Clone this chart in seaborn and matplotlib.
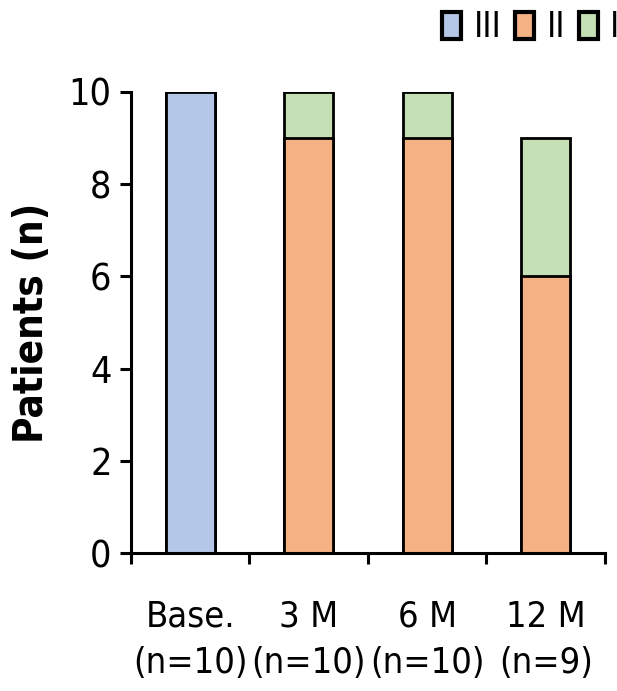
import numpy as np
import pandas as pd
import matplotlib
matplotlib.use("Agg")
import matplotlib.pyplot as plt
import seaborn as sns
from matplotlib.patches import Patch

# ── Data ──────────────────────────────────────────────────────────────────────
visits = ["Base.\n(n=10)", "3 M\n(n=10)", "6 M\n(n=10)", "12 M\n(n=9)"]
grade_iii = [10, 0, 0, 0]
grade_ii = [0, 9, 9, 6]
grade_i = [0, 1, 1, 3]
legend_labels = ["III", "II", "I"]

COLORS = {"III": "#B4C7E7", "II": "#F4B183", "I": "#C5E0B4"}

sns.set_style("white")
plt.rcParams["font.family"] = ["DejaVu Sans"]
plt.rcParams["font.stretch"] = "condensed"
plt.rcParams["text.color"] = "black"
plt.rcParams["axes.labelcolor"] = "black"
plt.rcParams["xtick.color"] = "black"
plt.rcParams["ytick.color"] = "black"

df = pd.DataFrame({"visit": visits, "III": grade_iii, "II": grade_ii, "I": grade_i})
# cumulative tops, drawn back to front so each layer covers the one behind
df["top_i"] = df["III"] + df["II"] + df["I"]
df["top_ii"] = df["III"] + df["II"]
df["top_iii"] = df["III"]

fig = plt.figure(figsize=(6.17, 6.91), dpi=100)
ax = fig.add_axes([0.2123, 0.1997, 0.7682, 0.6672])

for col, grade in [("top_i", "I"), ("top_ii", "II"), ("top_iii", "III")]:
    sns.barplot(data=df, x="visit", y=col, ax=ax, color=COLORS[grade],
                edgecolor="black", linewidth=2, width=0.41, saturation=1)

ax.set_xlim(-0.5, 3.5)
ax.set_ylim(0, 10)
ax.set_yticks([0, 2, 4, 6, 8, 10])
ax.set_xlabel("")
ax.set_ylabel("Patients (n)", fontsize=29, fontweight="bold", labelpad=12)

sns.despine(ax=ax, top=True, right=True)
for s in ["left", "bottom"]:
    ax.spines[s].set_linewidth(2.2)
    ax.spines[s].set_color("black")
ax.tick_params(axis="y", left=True, labelsize=27, width=2.2, length=8,
               direction="out", pad=6)
ax.tick_params(axis="x", which="major", bottom=False, labelsize=26, pad=30)
ax.set_xticks(np.arange(-0.5, 4.0, 1.0), minor=True)
ax.tick_params(axis="x", which="minor", bottom=True, width=2.2, length=8,
               direction="out")
for lab in ax.get_xticklabels():
    lab.set_linespacing(1.45)

handles = [Patch(facecolor=COLORS[g], edgecolor="black", linewidth=3) for g in legend_labels]
fig.legend(handles, legend_labels, loc="upper left", bbox_to_anchor=(0.683, 1.015),
           ncol=3, frameon=False, fontsize=25, handlelength=0.55, handleheight=0.8,
           handletextpad=0.35, columnspacing=0.4, borderaxespad=0.2)

fig.savefig("out.png", dpi=100)
